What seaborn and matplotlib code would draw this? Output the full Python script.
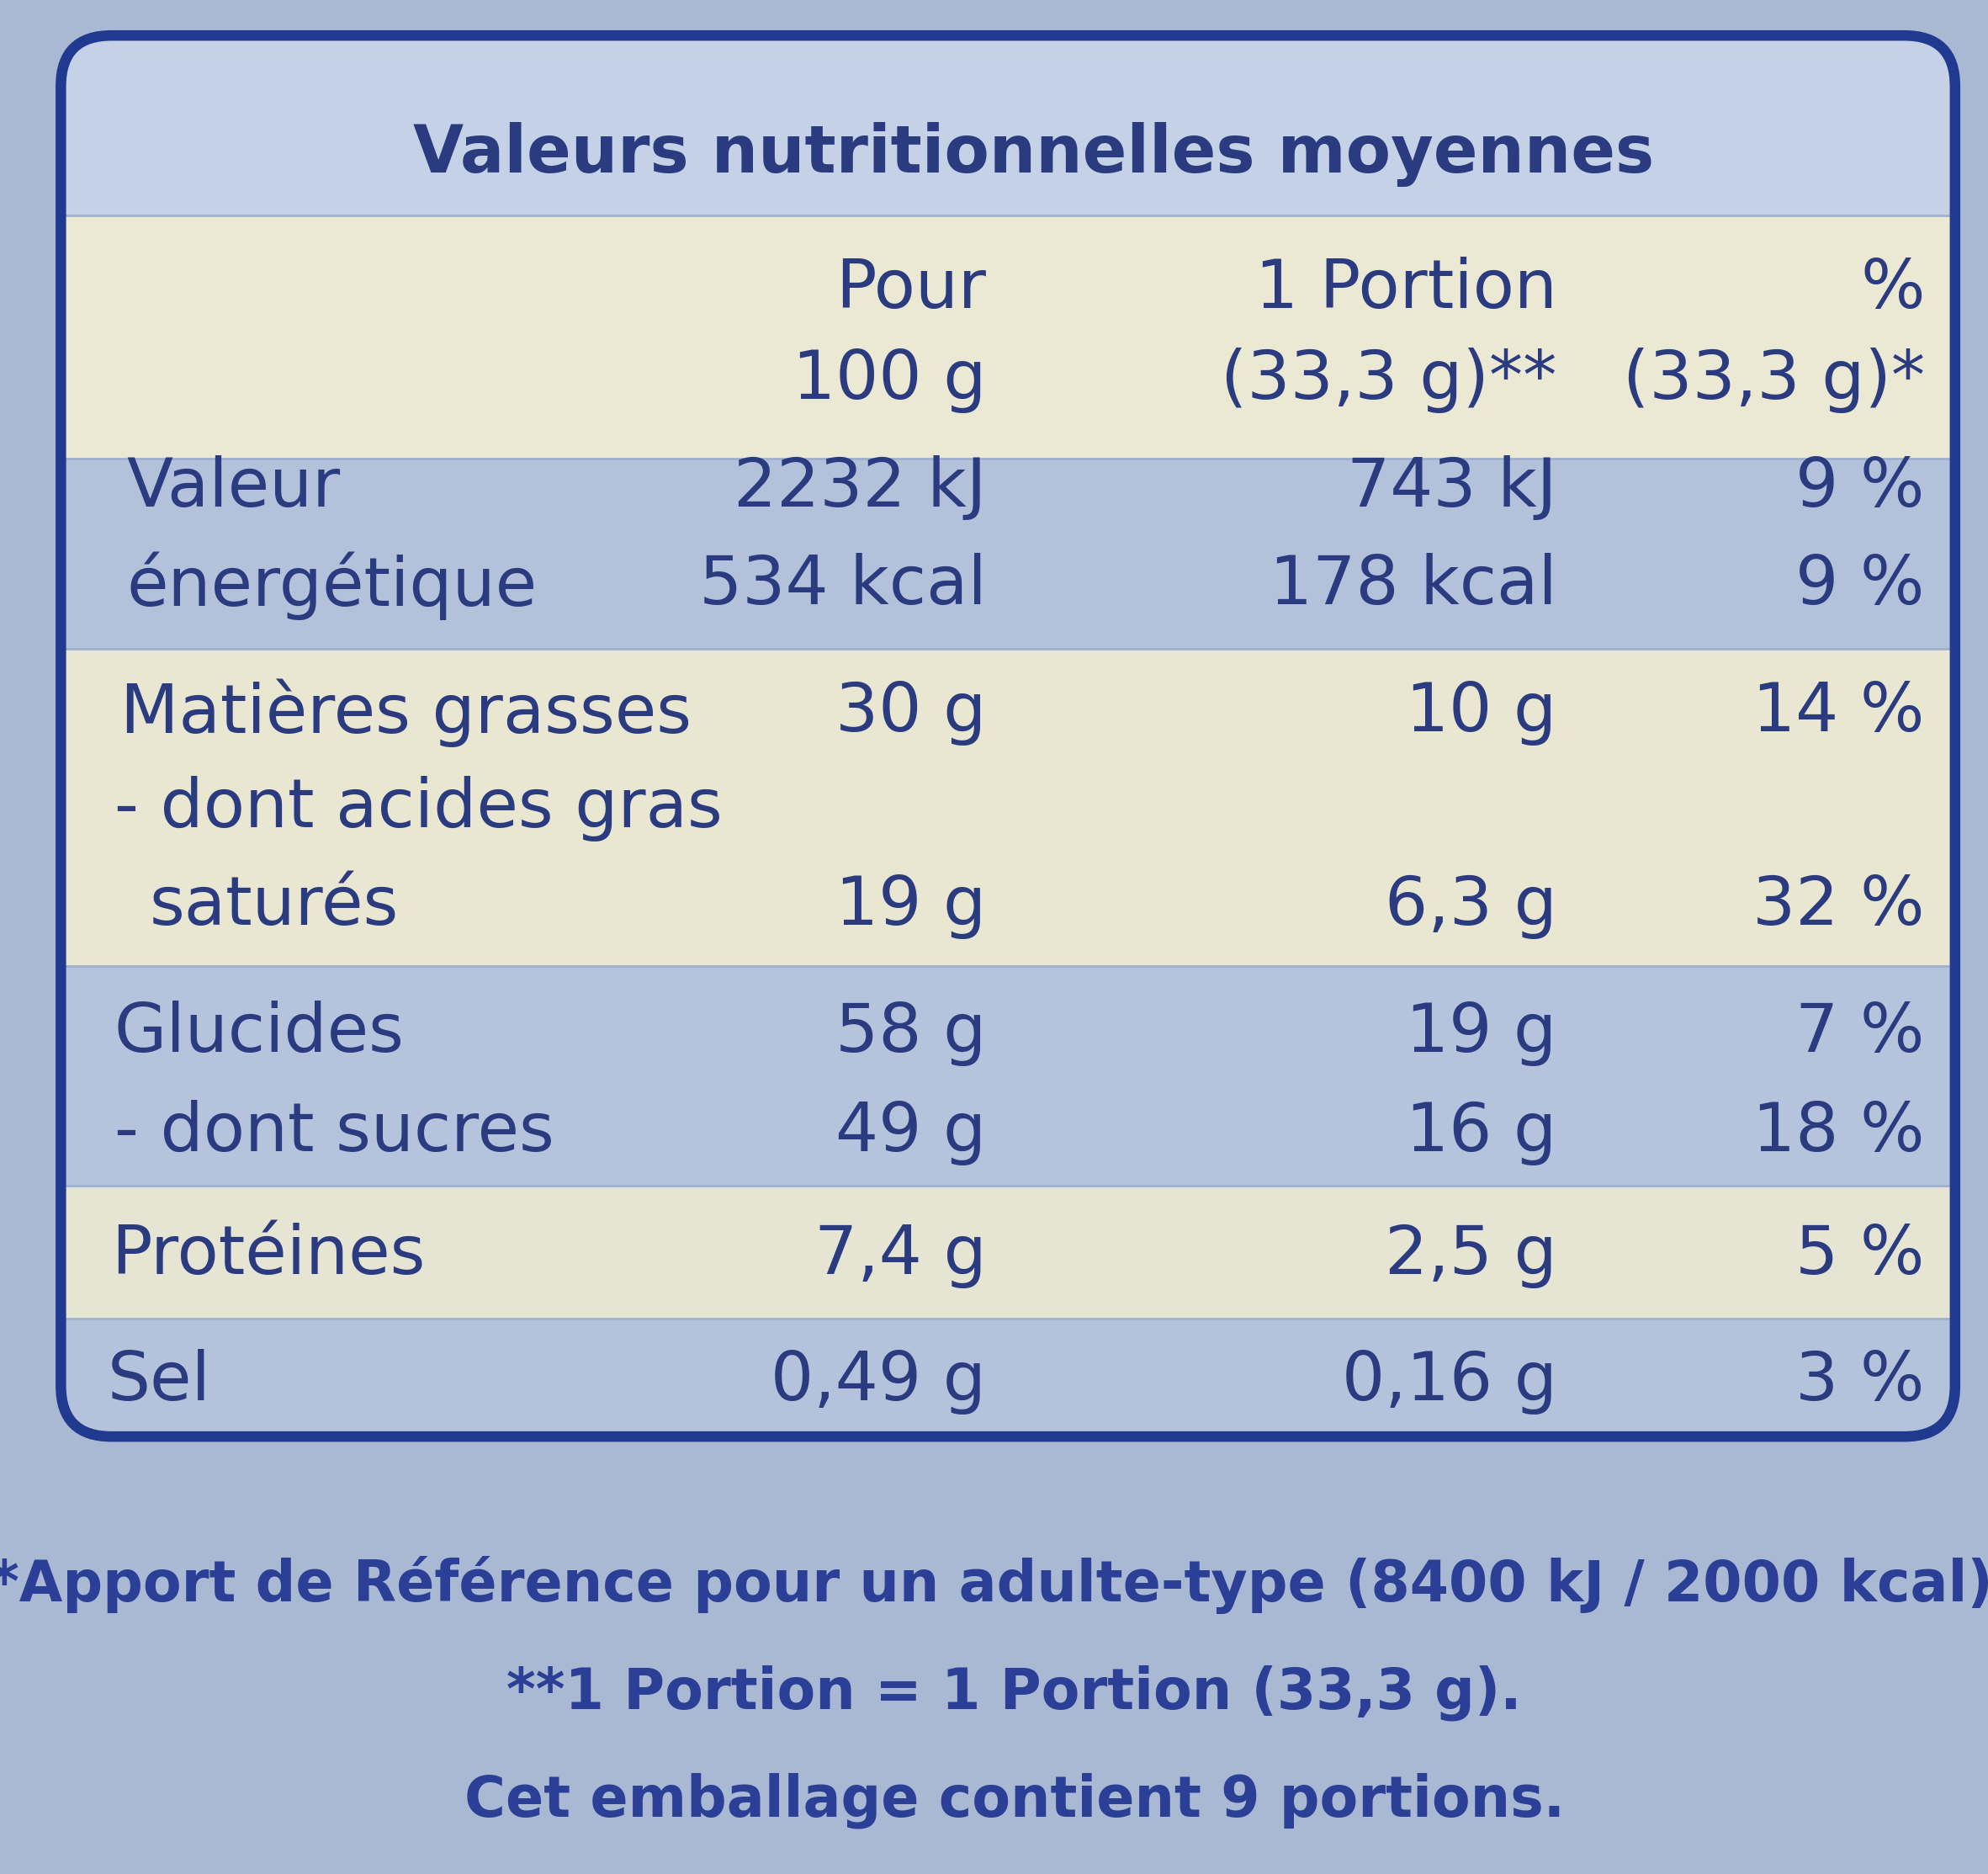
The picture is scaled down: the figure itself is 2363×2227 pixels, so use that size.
import matplotlib
matplotlib.use("Agg")
import matplotlib.pyplot as plt
import seaborn as sns
from matplotlib.patches import FancyBboxPatch, Rectangle

sns.set_theme(style="white")
plt.rcParams['font.family'] = ['DejaVu Sans']

title = "Valeurs nutritionnelles moyennes"
col_headers = [("Pour", "100 g"), ("1 Portion", "(33,3 g)**"), ("%", "(33,3 g)*")]
labels = ["Valeur", "énergétique", "Matières grasses", "- dont acides gras", "saturés",
          "Glucides", "- dont sucres", "Protéines", "Sel"]
per100 = ["2232 kJ", "534 kcal", "30 g", "", "19 g", "58 g", "49 g", "7,4 g", "0,49 g"]
portion = ["743 kJ", "178 kcal", "10 g", "", "6,3 g", "19 g", "16 g", "2,5 g", "0,16 g"]
pct = ["9 %", "9 %", "14 %", "", "32 %", "7 %", "18 %", "5 %", "3 %"]
footer = ["*Apport de Référence pour un adulte-type (8400 kJ / 2000 kcal).",
          "**1 Portion = 1 Portion (33,3 g).",
          "Cet emballage contient 9 portions."]

# layout (display units of a 1568x1478 frame)
W, H = 1568, 1478
row_y = [385, 462, 562, 638, 715, 815, 893, 990, 1090]
label_x = [100, 100, 95, 90, 118, 90, 90, 88, 85]
bands = [(30, 170, "#c4d1e6"), (170, 362, "#ebe8d3"), (362, 512, "#b3c1da"),
         (512, 762, "#e9e6d2"), (762, 935, "#b5c3dc"), (935, 1040, "#e6e4d3"),
         (1040, 1130, "#b4c2db")]
navy = "#2b3b80"

fig = plt.figure(figsize=(23.63, 22.27), dpi=100)
fig.patch.set_facecolor("#a9b8d3")
ax = fig.add_axes([0, 0, 1, 1])
ax.set_xlim(0, W); ax.set_ylim(H, 0); ax.axis("off")

clip = FancyBboxPatch((48, 28), 1494, 1105, boxstyle="round,pad=0,rounding_size=40",
                      fill=False, lw=0, transform=ax.transData)
ax.add_patch(clip)
for y0, y1, c in bands:
    r = Rectangle((48, y0), 1494, y1 - y0, color=c, zorder=1)
    ax.add_patch(r)
    r.set_clip_path(clip)
for y in [170, 362, 512, 762, 935, 1040]:
    ax.plot([48, 1542], [y, y], color="#9fb0cf", lw=2, zorder=2)
ax.add_patch(FancyBboxPatch((48, 28), 1494, 1105, boxstyle="round,pad=0,rounding_size=40",
                            fill=False, ec="#1f3a8f", lw=9, zorder=3))

fs = 58
kw = dict(color=navy, fontsize=fs, va="center", zorder=4)
ax.text(815, 122, title, ha="center", fontweight="bold", **{**kw, "fontsize": 56})
xs = [778, 1228, 1518]
for x, (a, b) in zip(xs, col_headers):
    ax.text(x, 228, a, ha="right", **kw)
    ax.text(x, 300, b, ha="right", **kw)
for lab, lx, y, a, b, c in zip(labels, label_x, row_y, per100, portion, pct):
    ax.text(lx, y, lab, ha="left", **kw)
    for x, v in zip(xs, (a, b, c)):
        ax.text(x, y, v, ha="right", **kw)
for i, t in enumerate(footer):
    ax.text(790 if i == 0 else 800, 1250 + i * 85, t, ha="center", fontweight="bold",
            **{**kw, "fontsize": 48, "color": "#2a3f95"})

fig.savefig("out.png", dpi=100, facecolor=fig.get_facecolor())
